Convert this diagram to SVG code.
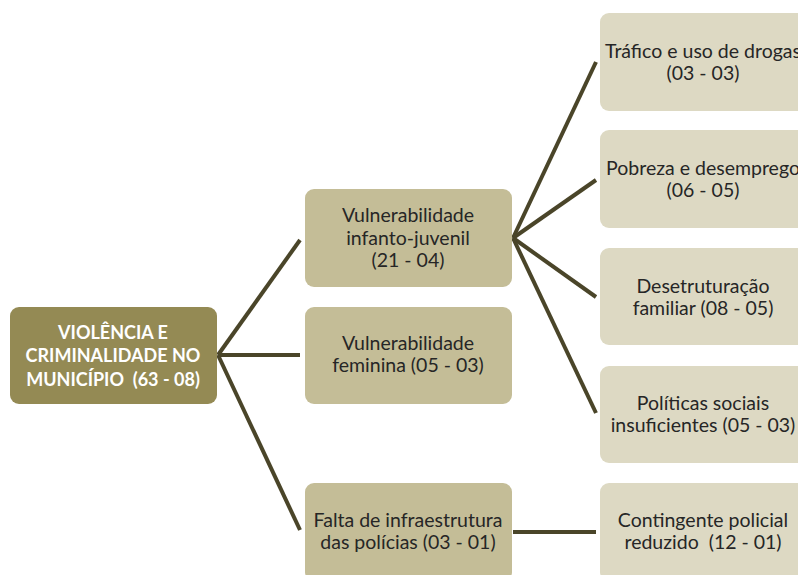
<svg xmlns="http://www.w3.org/2000/svg" width="798" height="575" viewBox="0 0 798 575">
  <style>
    .root { fill: #948a54; }
    .mid { fill: #c4bd97; }
    .leaf { fill: #ddd9c3; }
    .lbl { font-family: Lato, "Liberation Sans", sans-serif; font-size: 19.5px; fill: #262626; text-anchor: middle; white-space: pre; }
    .rootlbl { font-family: Lato, "Liberation Sans", sans-serif; font-size: 18px; font-weight: bold; fill: #ffffff; text-anchor: middle; white-space: pre; }
    .conn { stroke: #4a4529; stroke-width: 4; fill: none; }
  </style>

  <rect width="798" height="575" fill="#ffffff"/>

  <!-- connectors -->
  <g id="connectors" class="conn">
    <line x1="218" y1="355" x2="300" y2="240"/>
    <line x1="218" y1="355" x2="300" y2="355"/>
    <line x1="218" y1="355" x2="300" y2="530"/>
    <line x1="513" y1="238" x2="596" y2="62"/>
    <line x1="513" y1="238" x2="596" y2="180"/>
    <line x1="513" y1="238" x2="596" y2="297"/>
    <line x1="513" y1="238" x2="596" y2="413"/>
    <line x1="513" y1="532" x2="596" y2="532"/>
  </g>

  <!-- root -->
  <g id="violencia">
    <rect class="root" x="10" y="307" width="207" height="97" rx="9"/>
    <text class="rootlbl" x="113" y="339">VIOLÊNCIA E</text>
    <text class="rootlbl" x="113" y="362">CRIMINALIDADE NO</text>
    <text class="rootlbl" x="113" y="386">MUNICÍPIO  (63 - 08)</text>
  </g>

  <!-- second level -->
  <g id="infanto-juvenil">
    <rect class="mid" x="305" y="189" width="207" height="98" rx="9"/>
    <text class="lbl" x="408" y="222">Vulnerabilidade</text>
    <text class="lbl" x="408" y="245">infanto-juvenil</text>
    <text class="lbl" x="408" y="267">(21 - 04)</text>
  </g>
  <g id="feminina">
    <rect class="mid" x="305" y="307" width="207" height="97" rx="9"/>
    <text class="lbl" x="408" y="350">Vulnerabilidade</text>
    <text class="lbl" x="408" y="372">feminina (05 - 03)</text>
  </g>
  <g id="infraestrutura">
    <rect class="mid" x="305" y="483" width="207" height="98" rx="9"/>
    <text class="lbl" x="408" y="527">Falta de infraestrutura</text>
    <text class="lbl" x="408" y="549">das polícias (03 - 01)</text>
  </g>

  <!-- third level -->
  <g id="trafico">
    <rect class="leaf" x="600" y="13" width="207" height="98" rx="9"/>
    <text class="lbl" x="703" y="58">Tráfico e uso de drogas</text>
    <text class="lbl" x="703" y="80">(03 - 03)</text>
  </g>
  <g id="pobreza">
    <rect class="leaf" x="600" y="130" width="207" height="98" rx="9"/>
    <text class="lbl" x="703" y="175">Pobreza e desemprego</text>
    <text class="lbl" x="703" y="197">(06 - 05)</text>
  </g>
  <g id="desestruturacao">
    <rect class="leaf" x="600" y="248" width="207" height="97" rx="9"/>
    <text class="lbl" x="703" y="293">Desetruturação</text>
    <text class="lbl" x="703" y="315">familiar (08 - 05)</text>
  </g>
  <g id="politicas">
    <rect class="leaf" x="600" y="366" width="207" height="97" rx="9"/>
    <text class="lbl" x="703" y="410">Políticas sociais</text>
    <text class="lbl" x="703" y="432">insuficientes (05 - 03)</text>
  </g>
  <g id="contingente">
    <rect class="leaf" x="600" y="483" width="207" height="98" rx="9"/>
    <text class="lbl" x="703" y="527">Contingente policial</text>
    <text class="lbl" x="703" y="549">reduzido  (12 - 01)</text>
  </g>
</svg>
